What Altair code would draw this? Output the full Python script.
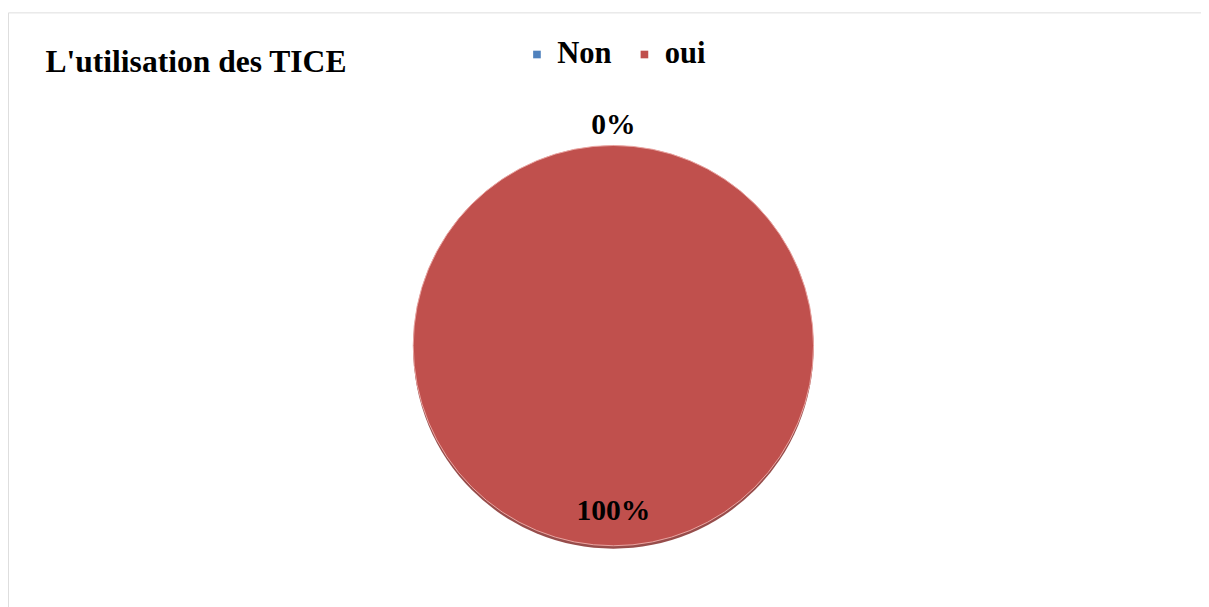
import altair as alt
import pandas as pd

categories = ["Non", "oui"]
values = [0, 100]
labels = ["0%", "100%"]
colors = ["#4F81BD", "#C0504D"]

df = pd.DataFrame({"cat": categories, "val": values, "label": labels, "ord": [0, 1]})

FONT = "'Liberation Serif', 'Times New Roman', Times, serif"
cx, cy, R = 614, 338, 203

base = alt.Chart(df).encode(
    theta=alt.Theta("val:Q", stack=True),
    order=alt.Order("ord:Q"),
)

shadow = base.mark_arc(color="#8C3A37", opacity=0.9).encode(
    x=alt.value(cx), y=alt.value(cy + 3), radius=alt.value(R)
)

pie = base.mark_arc(stroke="#E9A6A3", strokeWidth=1).encode(
    x=alt.value(cx), y=alt.value(cy), radius=alt.value(R),
    color=alt.Color(
        "cat:N",
        scale=alt.Scale(domain=categories, range=colors),
        sort=categories,
        legend=alt.Legend(
            title=None, orient="none", legendX=521, legendY=27,
            direction="horizontal", symbolType="square", symbolSize=60,
            symbolStrokeWidth=0,
            labelFont=FONT, labelFontSize=31, labelFontWeight="bold",
            labelColor="#000000", columnPadding=17, labelOffset=5,
        ),
    ),
)

lbl_out = base.transform_filter(alt.datum.cat == "Non").mark_text(
    font=FONT, fontSize=30, fontWeight="bold", color="#000000", baseline="middle"
).encode(x=alt.value(cx), y=alt.value(cy), radius=alt.value(R + 21), text="label:N")

lbl_in = base.transform_filter(alt.datum.cat == "oui").mark_text(
    font=FONT, fontSize=30, fontWeight="bold", color="#000000", baseline="middle"
).encode(x=alt.value(cx), y=alt.value(cy), radius=alt.value(R - 35), text="label:N")

chart = alt.layer(shadow, pie, lbl_out, lbl_in).properties(
    width=1210, height=620,
    padding={"top": 0, "left": 0, "right": 0, "bottom": 0},
    autosize=alt.AutoSizeParams(type="none"),
    title=alt.TitleParams(
        "L'utilisation des TICE", anchor="start", frame="group", orient="top",
        font=FONT, fontSize=32, fontWeight="bold", color="#000000",
        dx=38, dy=67, offset=0,
    ),
).configure_view(stroke="#D9D9D9", strokeWidth=1.5).configure(background="white")

chart.save("out.html", embed_options={"renderer": "svg", "actions": False})
